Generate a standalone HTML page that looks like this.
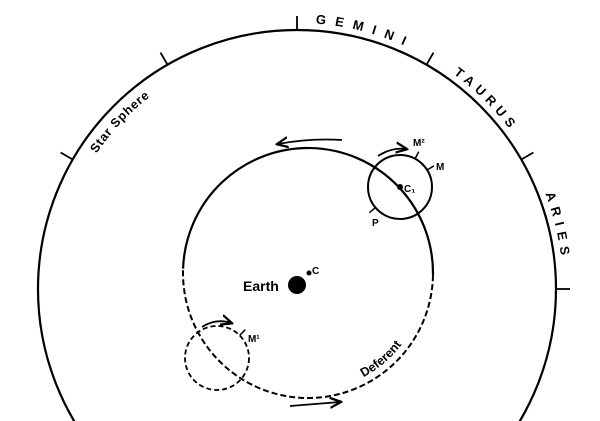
<!DOCTYPE html>
<html><head><meta charset="utf-8"><style>
html,body{margin:0;padding:0;background:#fff;width:600px;height:421px;overflow:hidden}
svg{display:block}
text{font-family:"Liberation Sans",sans-serif;font-weight:bold;fill:#000}
</style></head><body>
<svg width="600" height="421" viewBox="0 0 600 421">
<defs>
<marker id="ah" viewBox="0 0 10 10" refX="8" refY="5" markerWidth="7" markerHeight="7" orient="auto"><path d="M0,1 L9,5 L0,9" fill="none" stroke="#000" stroke-width="1.8"/></marker>
</defs>
<g id="root"></g>
</svg>
<script>
const zodiacNames=["GEMINI","TAURUS","ARIES"];
const zodiacStart=[-86,-54,-21];
const tickAngles=[-150,-120,-90,-60,-30,0];
const NS="http://www.w3.org/2000/svg";
const root=document.getElementById('root');
const defs=document.querySelector('defs');
const SC={x:297,y:289,r:259};
const D={x:308,y:273,r:125};
function pt(c,r,a){const t=a*Math.PI/180;return [c.x+r*Math.cos(t),c.y+r*Math.sin(t)];}
function el(tag,attrs,parent){const e=document.createElementNS(NS,tag);for(const k in attrs)e.setAttribute(k,attrs[k]);(parent||root).appendChild(e);return e;}
function arc(c,r,a1,a2){const p1=pt(c,r,a1),p2=pt(c,r,a2);const large=Math.abs(a2-a1)>180?1:0;const sw=a2>a1?1:0;return `M${p1[0]},${p1[1]} A${r},${r} 0 ${large} ${sw} ${p2[0]},${p2[1]}`;}
let e=el('circle',{cx:SC.x,cy:SC.y,r:SC.r,fill:'none',stroke:'#000','stroke-width':2.2});

tickAngles.forEach(a=>{const p1=pt(SC,SC.r,a),p2=pt(SC,SC.r+14,a);
 const t=el('line',{x1:p1[0],y1:p1[1],x2:p2[0],y2:p2[1],stroke:'#000','stroke-width':1.8});
 });
const spacing=[9,5,6];
zodiacNames.forEach((n,i)=>{const id='zp'+i;el('path',{id:id,d:arc(SC,SC.r+7,zodiacStart[i],zodiacStart[i]+30),fill:'none'},defs);
 const t=el('text',{'font-size':13,'letter-spacing':spacing[i]});
 
 const tp=el('textPath',{href:'#'+id},t);tp.textContent=n;});
el('path',{id:'sp',d:arc(SC,SC.r-17,-146,-110),fill:'none'},defs);
let st=el('text',{'font-size':12.5,'letter-spacing':0.8});

el('textPath',{href:'#sp'},st).textContent='Star Sphere';
e=el('path',{d:arc(D,D.r,-178,1),fill:'none',stroke:'#000','stroke-width':2.2});

e=el('path',{d:arc(D,D.r,1,182),fill:'none',stroke:'#000','stroke-width':2,'stroke-dasharray':'6 3'});

el('path',{id:'dp',d:arc(D,D.r-7,62,30),fill:'none'},defs);
let dt=el('text',{'font-size':12.5});

el('textPath',{href:'#dp'},dt).textContent='Deferent';
e=el('circle',{cx:297,cy:285,r:9,fill:'#000'});
e=el('circle',{cx:309,cy:273,r:2.5,fill:'#000'});
e=el('text',{x:243,y:291,'font-size':14});e.textContent='Earth';
e=el('text',{x:312,y:274,'font-size':10});e.textContent='C';
const E1={x:400,y:187,r:32};
e=el('circle',{cx:E1.x,cy:E1.y,r:E1.r,fill:'none',stroke:'#000','stroke-width':2});
e=el('circle',{cx:E1.x,cy:E1.y,r:3,fill:'#000'});
e=el('text',{x:404,y:192,'font-size':10});e.textContent='C₁';
[[-62,'M²',413,146],[-32,'M',436,170],[140,'P',372,226]].forEach(([a,lab,tx,ty])=>{const p1=pt(E1,E1.r,a),p2=pt(E1,E1.r+8,a);
 const l=el('line',{x1:p1[0],y1:p1[1],x2:p2[0],y2:p2[1],stroke:'#000','stroke-width':1.5});
 const t=el('text',{x:tx,y:ty,'font-size':10});t.textContent=lab;});
const E2={x:217,y:358,r:32};
e=el('circle',{cx:E2.x,cy:E2.y,r:E2.r,fill:'none',stroke:'#000','stroke-width':1.8,'stroke-dasharray':'5 3'});
{const p1=pt(E2,E2.r,-45),p2=pt(E2,E2.r+8,-45);const l=el('line',{x1:p1[0],y1:p1[1],x2:p2[0],y2:p2[1],stroke:'#000','stroke-width':1.5});}
e=el('text',{x:248,y:342,'font-size':10});e.textContent='M¹';
[['M342,140 Q310,138 278,144','deferent-arrow-top'],['M378,156 Q392,147 406,149','epicycle-arrow'],['M202,327 Q216,318 231,323','dashed-epicycle-arrow'],['M290,406 Q315,404 340,402','deferent-arrow-bottom']].forEach(([d,n])=>{
 const a=el('path',{d:d,fill:'none',stroke:'#000','stroke-width':1.8,'marker-end':'url(#ah)'});});
</script>
</body></html>
